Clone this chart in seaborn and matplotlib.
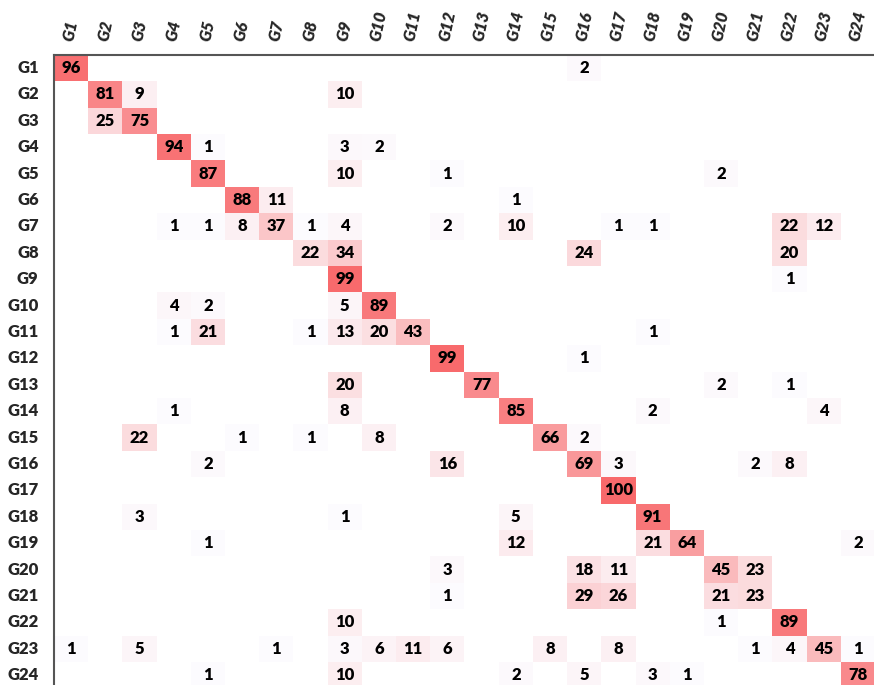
import numpy as np
import pandas as pd
import seaborn as sns
import matplotlib.pyplot as plt
from matplotlib.colors import LinearSegmentedColormap

labels = [f"G{i}" for i in range(1, 25)]

# Non-zero entries per true class: {predicted class index (1-based): percent}
rows = {
    1: {1: 96, 16: 2},
    2: {2: 81, 3: 9, 9: 10},
    3: {2: 25, 3: 75},
    4: {4: 94, 5: 1, 9: 3, 10: 2},
    5: {5: 87, 9: 10, 12: 1, 20: 2},
    6: {6: 88, 7: 11, 14: 1},
    7: {4: 1, 5: 1, 6: 8, 7: 37, 8: 1, 9: 4, 12: 2, 14: 10, 17: 1, 18: 1, 22: 22, 23: 12},
    8: {8: 22, 9: 34, 16: 24, 22: 20},
    9: {9: 99, 22: 1},
    10: {4: 4, 5: 2, 9: 5, 10: 89},
    11: {4: 1, 5: 21, 8: 1, 9: 13, 10: 20, 11: 43, 18: 1},
    12: {12: 99, 16: 1},
    13: {9: 20, 13: 77, 20: 2, 22: 1},
    14: {4: 1, 9: 8, 14: 85, 18: 2, 23: 4},
    15: {3: 22, 6: 1, 8: 1, 10: 8, 15: 66, 16: 2},
    16: {5: 2, 12: 16, 16: 69, 17: 3, 21: 2, 22: 8},
    17: {17: 100},
    18: {3: 3, 9: 1, 14: 5, 18: 91},
    19: {5: 1, 14: 12, 18: 21, 19: 64, 24: 2},
    20: {12: 3, 16: 18, 17: 11, 20: 45, 21: 23},
    21: {12: 1, 16: 29, 17: 26, 20: 21, 21: 23},
    22: {9: 10, 20: 1, 22: 89},
    23: {1: 1, 3: 5, 7: 1, 9: 3, 10: 6, 11: 11, 12: 6, 15: 8, 17: 8, 21: 1, 22: 4, 23: 45, 24: 1},
    24: {5: 1, 9: 10, 14: 2, 16: 5, 18: 3, 19: 1, 24: 78},
}

mat = np.zeros((24, 24))
for r, entries in rows.items():
    for c, v in entries.items():
        mat[r - 1, c - 1] = v
df = pd.DataFrame(mat, index=labels, columns=labels)

sns.set_theme(style="white")
plt.rcParams["font.family"] = ["Lato", "DejaVu Sans"]

cmap = LinearSegmentedColormap.from_list("wr", ["#FCFCFF", "#F8696B"])

fig = plt.figure(figsize=(8.74, 6.85), dpi=100)
ax = fig.add_axes([54 / 874, -3.4 / 685, 821 / 874, 633.6 / 685])

sns.heatmap(
    df, mask=(df == 0), cmap=cmap, vmin=0, vmax=100,
    annot=True, fmt=".0f", cbar=False, linewidths=0,
    annot_kws={"fontsize": 12, "fontweight": "heavy", "color": "black"},
    ax=ax,
)

ax.xaxis.tick_top()
ax.tick_params(axis="both", length=0)
ax.tick_params(axis="y", pad=11)
ax.tick_params(axis="x", pad=9)
ax.set_xticklabels(labels, rotation=78, fontsize=12, fontweight="heavy",
                   fontstyle="italic", ha="center", va="bottom")
ax.set_yticklabels(labels, rotation=0, fontsize=12, fontweight="heavy")
ax.set_xlabel("")
ax.set_ylabel("")

for side in ("left", "top"):
    ax.spines[side].set_visible(True)
    ax.spines[side].set_color("#555555")
    ax.spines[side].set_linewidth(1.5)
for side in ("right", "bottom"):
    ax.spines[side].set_visible(False)

fig.savefig("out.png", dpi=100)
